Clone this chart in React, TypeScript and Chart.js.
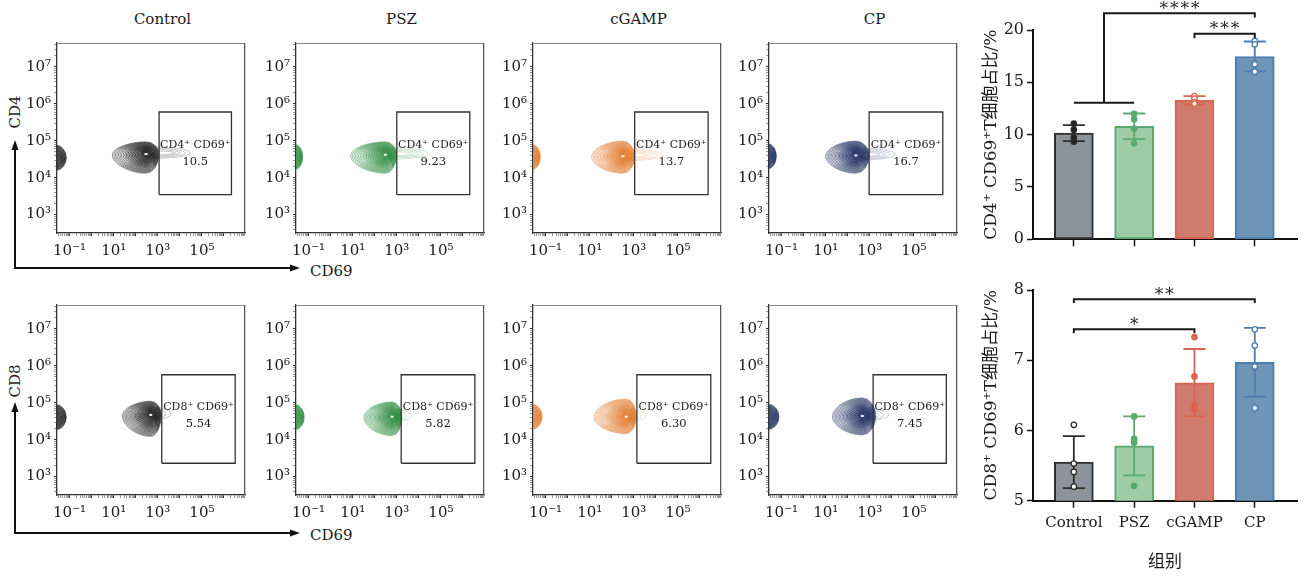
import React, { useEffect, useRef } from "react";
import { Chart, registerables } from "chart.js";

Chart.register(...registerables);

const FONT = '"DejaVu Serif", "Liberation Serif", "Noto Sans CJK SC", serif';

// ---------------- data ----------------
const groups = ["Control", "PSZ", "cGAMP", "CP"];

// flow cytometry gate percentages
const cd4Percent = ["10.5", "9.23", "13.7", "16.7"];
const cd8Percent = ["5.54", "5.82", "6.30", "7.45"];

// flow axes (log10 exponents)
const flowXRange = [-1.57, 6.96];
const flowYRange = [2.5, 7.65];
const flowXTickExps = [-1, 1, 3, 5];
const flowYTickExps = [3, 4, 5, 6, 7];

// CD4+CD69+ gates (log10)
const cd4GateLeft = [3.06, 3.0, 3.04, 2.97];
const cd4GateRight = [6.34, 6.31, 6.37, 6.31];
const cd4GateBottom = [3.54, 3.54, 3.54, 3.54];
const cd4GateTop = [5.78, 5.78, 5.78, 5.78];
// CD8+CD69+ gates (log10)
const cd8GateLeft = [3.18, 3.2, 3.14, 3.15];
const cd8GateRight = [6.51, 6.54, 6.49, 6.47];
const cd8GateBottom = [3.36, 3.36, 3.36, 3.36];
const cd8GateTop = [5.76, 5.76, 5.76, 5.76];

// main population contours (log10)
const cd4PopLeft = [0.94, 0.91, 1.09, 1.0];
const cd4PopRight = [3.05, 2.99, 3.04, 2.97];
const cd4PopPeakX = [2.47, 2.48, 2.51, 2.37];
const cd4PopLow = [4.12, 4.12, 4.12, 4.12];
const cd4PopHigh = [4.97, 4.97, 4.99, 4.99];
const cd4PopPeakY = [4.64, 4.62, 4.58, 4.6];
const cd4PopTail = [4.48, 4.42, 4.3, 4.15];
const cd4EdgeRight = [-1.15, -1.27, -1.24, -1.24];
const cd4EdgeY = [4.54, 4.56, 4.56, 4.58];

const cd8PopLeft = [1.4, 1.51, 1.19, 1.31];
const cd8PopRight = [3.15, 3.23, 3.11, 3.27];
const cd8PopPeakX = [2.68, 2.79, 2.66, 2.66];
const cd8PopLow = [4.09, 4.11, 4.16, 4.13];
const cd8PopHigh = [5.04, 5.02, 5.1, 5.13];
const cd8PopPeakY = [4.67, 4.62, 4.62, 4.64];
const cd8PopTail = [3.6, 3.68, 3.56, 3.87];
const cd8EdgeRight = [-1.15, -1.2, -1.16, -1.12];
const cd8EdgeY = [4.61, 4.61, 4.62, 4.62];

// bar charts
const cd4YTicks = [0, 5, 10, 15, 20];
const cd4Mean = [10.15, 10.8, 13.28, 17.47];
const cd4Sd = [0.76, 1.22, 0.4, 1.43];
const cd4Points = [
  [11.05, 10.48, 9.71, 9.33],
  [11.98, 11.47, 10.57, 9.18],
  [13.68, 13.45, 13.1, 12.95],
  [18.96, 18.64, 16.73, 16.02],
];
const cd8YTicks = [5, 6, 7, 8];
const cd8Mean = [5.55, 5.78, 6.68, 6.97];
const cd8Sd = [0.37, 0.42, 0.48, 0.49];
const cd8Points = [
  [6.08, 5.53, 5.41, 5.2],
  [6.2, 5.88, 5.83, 5.21],
  [7.33, 6.77, 6.35, 6.3],
  [7.44, 7.21, 6.91, 6.32],
];

// significance brackets
const cd4Brackets = [{ from: 2, to: 3, y: 19.63, drop: 0.42, label: "***" }];
const cd4GroupBracket = { groupFrom: 0, groupTo: 1, groupY: 13.06, to: 3, y: 21.6, drop: 0.4, label: "****" };
const cd8Brackets = [
  { from: 0, to: 3, y: 7.87, drop: 0.055, label: "**" },
  { from: 0, to: 2, y: 7.44, drop: 0.055, label: "*" },
];

// ---------------- styles ----------------
const flowColors = ["#1e1e1e", "#2a8a3c", "#e0782a", "#17295a"];
const barFills = ["#8e929b", "#9dcca5", "#d07b6e", "#6c95b6"];
const barEdges = ["#2e2e2e", "#5aaa6e", "#d9644f", "#4d7eb0"];
const cd4PointFill = ["#222222", "#55ab6b", "#ffffff", "#ffffff"];
const cd8PointFill = ["#ffffff", "#55ab6b", "#d9644f", "#ffffff"];

const panelLefts = [57, 296, 533, 769];
const rowTops = [43, 305];
const Y_AXIS_W = 46;
const PAD_TOP = 14;
const PAD_RIGHT = 5;
const BOX_W = 189;
const BOX_H = 190;
const X_AXIS_H = 32;
const FLOW_W = Y_AXIS_W + BOX_W + PAD_RIGHT;
const FLOW_H = PAD_TOP + BOX_H + X_AXIS_H;

const SUP: Record<string, string> = {
  "-": "⁻", "0": "⁰", "1": "¹", "2": "²", "3": "³", "4": "⁴", "5": "⁵", "6": "⁶", "7": "⁷", "8": "⁸", "9": "⁹",
};
const sup = (n: number) => String(n).split("").map((c) => SUP[c] || c).join("");

function logTicks(minExp: number, maxExp: number) {
  const t: { value: number; major: boolean }[] = [];
  for (let e = Math.floor(minExp); e <= Math.ceil(maxExp); e++) {
    for (let m = 1; m <= 9; m++) {
      const v = m * Math.pow(10, e);
      const l = Math.log10(v);
      if (l >= minExp && l <= maxExp) t.push({ value: v, major: m === 1 });
    }
  }
  return t;
}

const expLabel = (exps: number[]) => (value: any) => {
  const l = Math.log10(Number(value));
  const r = Math.round(l);
  if (Math.abs(l - r) < 1e-6 && exps.includes(r)) return "10" + sup(r);
  return "";
};

function eggPath(ctx: CanvasRenderingContext2D, cx: number, cy: number, rl: number, rr: number, rt: number, rb: number) {
  rl = Math.max(rl, 0.3); rr = Math.max(rr, 0.3); rt = Math.max(rt, 0.3); rb = Math.max(rb, 0.3);
  ctx.beginPath();
  ctx.moveTo(cx, cy - rt);
  ctx.ellipse(cx, cy, rr, rt, 0, -Math.PI / 2, 0);
  ctx.ellipse(cx, cy, rr, rb, 0, 0, Math.PI / 2);
  ctx.bezierCurveTo(cx - rl * 0.5, cy + rb, cx - rl, cy + rb * 0.5, cx - rl, cy + rb * 0.05);
  ctx.bezierCurveTo(cx - rl, cy - rt * 0.5, cx - rl * 0.5, cy - rt, cx, cy - rt);
  ctx.closePath();
}

function flowPlugin(row: number, i: number) {
  const isCD4 = row === 0;
  const popLeft = (isCD4 ? cd4PopLeft : cd8PopLeft)[i];
  const popRight = (isCD4 ? cd4PopRight : cd8PopRight)[i];
  const peakX = (isCD4 ? cd4PopPeakX : cd8PopPeakX)[i];
  const popLow = (isCD4 ? cd4PopLow : cd8PopLow)[i];
  const popHigh = (isCD4 ? cd4PopHigh : cd8PopHigh)[i];
  const peakY = (isCD4 ? cd4PopPeakY : cd8PopPeakY)[i];
  const tail = (isCD4 ? cd4PopTail : cd8PopTail)[i];
  const edgeRight = (isCD4 ? cd4EdgeRight : cd8EdgeRight)[i];
  const edgeY = (isCD4 ? cd4EdgeY : cd8EdgeY)[i];
  const gL = (isCD4 ? cd4GateLeft : cd8GateLeft)[i];
  const gR = (isCD4 ? cd4GateRight : cd8GateRight)[i];
  const pct = (isCD4 ? cd4Percent : cd8Percent)[i];
  const name = isCD4 ? "CD4⁺ CD69⁺" : "CD8⁺ CD69⁺";
  const col = flowColors[i];
  return {
    id: "flow" + row + i,
    beforeDatasetsDraw(chart: any) {
      const { ctx, chartArea: a } = chart;
      const xs = chart.scales.x, ys = chart.scales.y;
      const X = (l: number) => xs.getPixelForValue(Math.pow(10, l));
      const Y = (l: number) => ys.getPixelForValue(Math.pow(10, l));
      ctx.save();
      ctx.beginPath();
      ctx.rect(a.left, a.top, a.right - a.left, a.bottom - a.top);
      ctx.clip();
      ctx.strokeStyle = col;
      ctx.fillStyle = col;
      ctx.lineWidth = 0.8;
      const cx = X(peakX), cy = Y(peakY);
      const rl = cx - X(popLeft), rr = X(popRight) - cx;
      const rt = cy - Y(popHigh), rb = Y(popLow) - cy;
      // tail toward the gate (sparse, light)
      const tx = X(tail);
      for (let j = 0; j < 4; j++) {
        ctx.globalAlpha = 0.3;
        eggPath(ctx, cx + rr * 0.2, cy - 1, rr * 0.5, tx - cx - rr * 0.2 - j * 5, 6.5 - j * 1.4, 5.5 - j * 1.2);
        ctx.stroke();
      }
      // main population
      const K = 22;
      for (let k = 0; k < K; k++) {
        const s = 1 - k / K;
        eggPath(ctx, cx, cy, rl * s, rr * Math.pow(s, 0.6), rt * Math.pow(s, 0.75), rb * Math.pow(s, 0.8));
        if (k >= K * 0.35) {
          ctx.globalAlpha = 0.08;
          ctx.fill();
        }
        ctx.globalAlpha = 0.6 + 0.4 * (k / (K - 1));
        ctx.stroke();
      }
      // small bright core
      ctx.globalAlpha = 0.9;
      ctx.fillStyle = "#ffffff";
      ctx.fillRect(cx - 1.5, cy - 1, 3, 2);
      ctx.fillStyle = col;
      // edge population at the axis
      const ex = a.left - 1, er = X(edgeRight) - a.left + 1, ey = Y(edgeY);
      const eh = 12.5;
      for (let k = 0; k < 10; k++) {
        const s = 1 - k / 10;
        ctx.beginPath();
        ctx.ellipse(ex, ey, er * Math.pow(s, 0.5), eh * Math.pow(s, 0.55), 0, 0, Math.PI * 2);
        ctx.globalAlpha = 0.12;
        ctx.fill();
        ctx.globalAlpha = 0.85;
        ctx.stroke();
      }
      ctx.restore();
    },
    afterDatasetsDraw(chart: any) {
      const { ctx, chartArea: a } = chart;
      const xs = chart.scales.x, ys = chart.scales.y;
      const X = (l: number) => xs.getPixelForValue(Math.pow(10, l));
      const Y = (l: number) => ys.getPixelForValue(Math.pow(10, l));
      ctx.save();
      // box top/right
      ctx.lineWidth = 1;
      ctx.strokeStyle = "#8a8a8a";
      ctx.beginPath();
      ctx.moveTo(a.left, a.top + 0.5);
      ctx.lineTo(a.right, a.top + 0.5);
      ctx.stroke();
      ctx.strokeStyle = "#555";
      ctx.lineWidth = 1.3;
      ctx.beginPath();
      ctx.moveTo(a.right - 0.5, a.top);
      ctx.lineTo(a.right - 0.5, a.bottom);
      ctx.stroke();
      // gate label
      const gx = (X(gL) + X(gR)) / 2;
      ctx.fillStyle = "#1a1a1a";
      ctx.textAlign = "center";
      ctx.textBaseline = "middle";
      ctx.font = `11px ${FONT}`;
      ctx.fillText(name, gx, Y(4.88));
      ctx.font = `11.5px ${FONT}`;
      ctx.fillText(pct, gx, Y(4.43));
      ctx.restore();
    },
  };
}

function makeFlowChart(canvas: HTMLCanvasElement, row: number, i: number) {
  const isCD4 = row === 0;
  const gL = (isCD4 ? cd4GateLeft : cd8GateLeft)[i];
  const gR = (isCD4 ? cd4GateRight : cd8GateRight)[i];
  const gB = (isCD4 ? cd4GateBottom : cd8GateBottom)[i];
  const gT = (isCD4 ? cd4GateTop : cd8GateTop)[i];
  const p = (l: number) => Math.pow(10, l);
  const gate = [
    { x: p(gL), y: p(gB) },
    { x: p(gR), y: p(gB) },
    { x: p(gR), y: p(gT) },
    { x: p(gL), y: p(gT) },
    { x: p(gL), y: p(gB) },
  ];
  const tickCommon = {
    autoSkip: false,
    maxRotation: 0,
    minRotation: 0,
    color: "#1a1a1a",
    font: { family: FONT, size: 15 },
  };
  const gridCommon = {
    drawOnChartArea: false,
    drawTicks: true,
    tickLength: 3,
    tickColor: (c: any) => (c.tick && c.tick.major ? "#333" : "#999"),
    tickWidth: 1,
  };
  return new Chart(canvas, {
    type: "scatter",
    data: {
      datasets: [
        {
          data: gate,
          showLine: true,
          borderColor: "#333",
          borderWidth: 1.3,
          pointRadius: 0,
          fill: false,
          tension: 0,
        } as any,
      ],
    },
    options: {
      animation: false,
      responsive: false,
      events: [],
      layout: { padding: { top: PAD_TOP, right: PAD_RIGHT, left: 0, bottom: 0 } },
      plugins: { legend: { display: false }, tooltip: { enabled: false } },
      scales: {
        x: {
          type: "logarithmic",
          min: p(flowXRange[0]),
          max: p(flowXRange[1]),
          afterBuildTicks: (s: any) => { s.ticks = logTicks(flowXRange[0], flowXRange[1]); },
          afterFit: (s: any) => { s.height = X_AXIS_H; },
          ticks: { ...tickCommon, padding: 6, callback: expLabel(flowXTickExps) },
          grid: gridCommon,
          border: { display: true, color: "#333", width: 1.3 },
        },
        y: {
          type: "logarithmic",
          min: p(flowYRange[0]),
          max: p(flowYRange[1]),
          afterBuildTicks: (s: any) => { s.ticks = logTicks(flowYRange[0], flowYRange[1]); },
          afterFit: (s: any) => { s.width = Y_AXIS_W; },
          ticks: { ...tickCommon, padding: 3, callback: expLabel(flowYTickExps) },
          grid: gridCommon,
          border: { display: true, color: "#333", width: 1.3 },
        },
      } as any,
    },
    plugins: [flowPlugin(row, i)],
  });
}

function FlowPanel({ row, i }: { row: number; i: number }) {
  const ref = useRef<HTMLCanvasElement>(null);
  useEffect(() => {
    const chart = makeFlowChart(ref.current!, row, i);
    return () => chart.destroy();
  }, [row, i]);
  return (
    <canvas
      ref={ref}
      width={FLOW_W}
      height={FLOW_H}
      style={{
        position: "absolute",
        left: panelLefts[i] - Y_AXIS_W,
        top: rowTops[row] - PAD_TOP,
        width: FLOW_W,
        height: FLOW_H,
      }}
    />
  );
}

// ---------------- bar charts ----------------
function drawStars(ctx: CanvasRenderingContext2D, text: string, x: number, centerY: number) {
  const m = ctx.measureText(text);
  const asc = m.actualBoundingBoxAscent || 0;
  const desc = m.actualBoundingBoxDescent || 0;
  ctx.fillText(text, x, centerY + (asc - desc) / 2);
}

function barPlugin(which: number) {
  const isCD4 = which === 0;
  const means = isCD4 ? cd4Mean : cd8Mean;
  const sds = isCD4 ? cd4Sd : cd8Sd;
  const brackets = isCD4 ? cd4Brackets : cd8Brackets;
  return {
    id: "bars" + which,
    afterDatasetDraw(chart: any, args: any) {
      if (args.index !== 0) return;
      const { ctx } = chart;
      const xs = chart.scales.x, ys = chart.scales.y;
      ctx.save();
      means.forEach((m, i) => {
        const x = xs.getPixelForValue(i);
        const top = ys.getPixelForValue(m + sds[i]);
        const bot = ys.getPixelForValue(m - sds[i]);
        ctx.strokeStyle = barEdges[i];
        ctx.lineWidth = 1.8;
        ctx.beginPath();
        ctx.moveTo(x, top);
        ctx.lineTo(x, bot);
        ctx.moveTo(x - 11, top);
        ctx.lineTo(x + 11, top);
        ctx.moveTo(x - 11, bot);
        ctx.lineTo(x + 11, bot);
        ctx.stroke();
      });
      ctx.restore();
    },
    afterDraw(chart: any) {
      const { ctx } = chart;
      const xs = chart.scales.x, ys = chart.scales.y;
      const X = (v: number) => xs.getPixelForValue(v);
      const Y = (v: number) => ys.getPixelForValue(v);
      ctx.save();
      ctx.strokeStyle = "#1a1a1a";
      ctx.fillStyle = "#1a1a1a";
      ctx.lineWidth = 2;
      ctx.font = `17px ${FONT}`;
      ctx.textAlign = "center";
      ctx.textBaseline = "alphabetic";
      try { (ctx as any).letterSpacing = "2px"; } catch (e) {}
      brackets.forEach((b) => {
        const x1 = X(b.from), x2 = X(b.to), y = Y(b.y), yd = Y(b.y - b.drop);
        ctx.beginPath();
        ctx.moveTo(x1, yd);
        ctx.lineTo(x1, y);
        ctx.lineTo(x2, y);
        ctx.lineTo(x2, yd);
        ctx.stroke();
        drawStars(ctx, b.label, (x1 + x2) / 2 + 1, y - 8.5);
      });
      if (isCD4) {
        const g = cd4GroupBracket;
        const mid = (g.groupFrom + g.groupTo) / 2;
        ctx.beginPath();
        ctx.moveTo(X(g.groupFrom), Y(g.groupY));
        ctx.lineTo(X(g.groupTo), Y(g.groupY));
        ctx.moveTo(X(mid), Y(g.groupY));
        ctx.lineTo(X(mid), Y(g.y));
        ctx.lineTo(X(g.to), Y(g.y));
        ctx.lineTo(X(g.to), Y(g.y - g.drop));
        ctx.stroke();
        drawStars(ctx, g.label, (X(mid) + X(g.to)) / 2 + 1, Y(g.y) - 8.5);
      }
      ctx.restore();
    },
  };
}

function makeBarChart(canvas: HTMLCanvasElement, which: number) {
  const isCD4 = which === 0;
  const means = isCD4 ? cd4Mean : cd8Mean;
  const points = isCD4 ? cd4Points : cd8Points;
  const yTicks = isCD4 ? cd4YTicks : cd8YTicks;
  const pointFill = isCD4 ? cd4PointFill : cd8PointFill;
  const axisH = isCD4 ? 25.7 : 79.3;
  const padTop = isCD4 ? 30 : 20;
  const datasets: any[] = [
    {
      type: "bar",
      data: means.map((m, i) => ({ x: i, y: m })),
      backgroundColor: barFills,
      borderColor: barEdges,
      borderWidth: 2,
      borderSkipped: false,
      barThickness: 39,
      order: 1,
    },
  ];
  points.forEach((pts, i) => {
    datasets.push({
      type: "scatter",
      data: pts.map((v) => ({ x: i, y: v })),
      pointRadius: 2.7,
      pointBorderWidth: 1.3,
      pointBackgroundColor: pointFill[i],
      pointBorderColor: barEdges[i],
      order: 0,
    });
  });
  return new Chart(canvas, {
    type: "bar",
    data: { datasets },
    options: {
      animation: false,
      responsive: false,
      events: [],
      layout: { padding: { top: padTop, right: 11, left: 0, bottom: 0 } },
      plugins: { legend: { display: false }, tooltip: { enabled: false } },
      scales: {
        x: {
          type: "linear",
          min: -0.677,
          max: 3.7,
          offset: false,
          afterBuildTicks: (s: any) => { s.ticks = groups.map((_, i) => ({ value: i })); },
          afterFit: (s: any) => { s.height = axisH; },
          ticks: {
            autoSkip: false,
            maxRotation: 0,
            minRotation: 0,
            padding: 6,
            color: "#1a1a1a",
            font: { family: FONT, size: 15 },
            callback: (v: any) => (isCD4 ? "" : groups[Math.round(Number(v))]),
          },
          grid: { drawOnChartArea: false, drawTicks: true, tickLength: 7, tickColor: "#111", tickWidth: 1.5, offset: false },
          border: { display: true, color: "#111", width: 2 },
          title: isCD4
            ? { display: false }
            : { display: true, text: "组别", color: "#1a1a1a", font: { family: FONT, size: 17 }, padding: { top: 0, bottom: 7 } },
        },
        y: {
          type: "linear",
          min: yTicks[0],
          max: yTicks[yTicks.length - 1],
          afterBuildTicks: (s: any) => { s.ticks = yTicks.map((v) => ({ value: v })); },
          afterFit: (s: any) => { s.width = 73; },
          ticks: { padding: 3, color: "#1a1a1a", font: { family: FONT, size: 16 } },
          grid: { drawOnChartArea: false, drawTicks: true, tickLength: 6, tickColor: "#111", tickWidth: 1.5 },
          border: { display: true, color: "#111", width: 2 },
          title: {
            display: true,
            text: isCD4 ? "CD4⁺ CD69⁺T细胞占比/%" : "CD8⁺ CD69⁺T细胞占比/%",
            color: "#1a1a1a",
            font: { family: FONT, size: 17 },
            padding: { top: 21, bottom: 0 },
          },
        },
      } as any,
    },
    plugins: [barPlugin(which)],
  });
}

function BarPanel({ which }: { which: number }) {
  const ref = useRef<HTMLCanvasElement>(null);
  const h = which === 0 ? 265 : 310;
  useEffect(() => {
    const chart = makeBarChart(ref.current!, which);
    return () => chart.destroy();
  }, [which]);
  return (
    <canvas
      ref={ref}
      width={348}
      height={h}
      style={{ position: "absolute", left: 960, top: which === 0 ? 0 : 270, width: 348, height: h }}
    />
  );
}

// ---------------- app ----------------
export default function App() {
  const txt = { fontFamily: FONT, fill: "#1a1a1a" } as any;
  return (
    <div style={{ position: "absolute", left: 0, top: 0, width: 1308, height: 580, background: "#fff", overflow: "hidden" }}>
      <svg width={1308} height={580} style={{ position: "absolute", left: 0, top: 0 }}>
        {groups.map((g, i) => (
          <text key={g} x={panelLefts[i] + BOX_W / 2 + 11} y={19} textAnchor="middle" dominantBaseline="central" fontSize={15} {...txt}>
            {g}
          </text>
        ))}
        {/* row 1 axes arrows */}
        <text x={15} y={112} textAnchor="middle" dominantBaseline="central" fontSize={15} transform="rotate(-90 15 112)" {...txt}>CD4</text>
        <polyline points="15,149 15,268 291,268" fill="none" stroke="#111" strokeWidth={2} />
        <polygon points="15,140 11.5,150 18.5,150" fill="#111" />
        <polygon points="300,268 290,264.5 290,271.5" fill="#111" />
        <text x={310} y={271} dominantBaseline="central" fontSize={15} {...txt}>CD69</text>
        {/* row 2 axes arrows */}
        <text x={15} y={381} textAnchor="middle" dominantBaseline="central" fontSize={15} transform="rotate(-90 15 381)" {...txt}>CD8</text>
        <polyline points="15,411 15,533 291,533" fill="none" stroke="#111" strokeWidth={2} />
        <polygon points="15,402 11.5,412 18.5,412" fill="#111" />
        <polygon points="300,533 290,529.5 290,536.5" fill="#111" />
        <text x={310} y={535} dominantBaseline="central" fontSize={15} {...txt}>CD69</text>
      </svg>
      {[0, 1].map((row) => groups.map((_, i) => <FlowPanel key={row + "-" + i} row={row} i={i} />))}
      <BarPanel which={0} />
      <BarPanel which={1} />
    </div>
  );
}
